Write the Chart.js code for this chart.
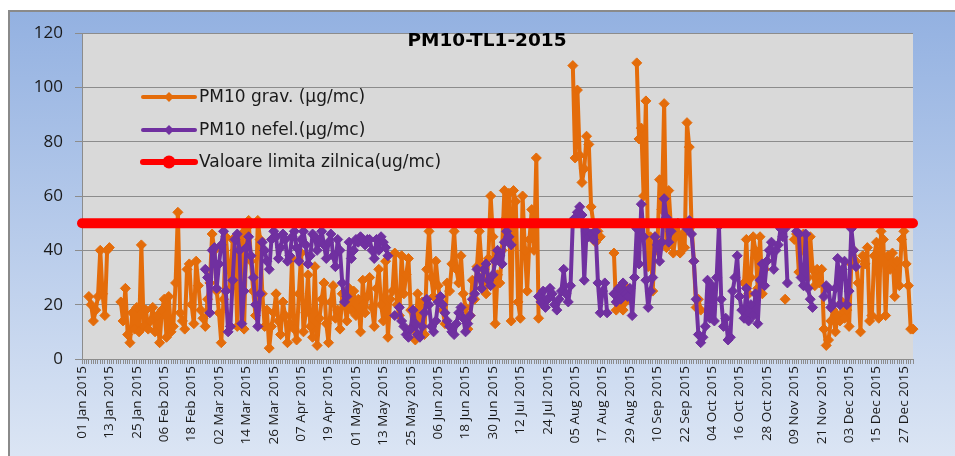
<!DOCTYPE html>
<html>
<head>
<meta charset="utf-8">
<script src="https://cdn.jsdelivr.net/npm/chart.js@4.4.1/dist/chart.umd.min.js"></script>
<style>
  html, body { margin: 0; padding: 0; background: #fff; }
</style>
</head>
<body>
<canvas id="pm10" width="955" height="456"></canvas>
<script>
// --- data -------------------------------------------------------------
const chartTitle = 'PM10-TL1-2015';
const seriesNames = ['PM10 grav. (µg/mc)', 'PM10 nefel.(µg/mc)', 'Valoare limita zilnica(ug/mc)'];
const limitValue = 50;
const yMin = 0, yMax = 120, yStep = 20;
const labelEvery = 12; // one x label every 12 days
const monthNames = ['Jan', 'Feb', 'Mar', 'Apr', 'May', 'Jun', 'Jul', 'Aug', 'Sep', 'Oct', 'Nov', 'Dec'];

// daily categories for 2015
const days = [];
for (let d = new Date(Date.UTC(2015, 0, 1)); d.getUTCFullYear() === 2015; d.setUTCDate(d.getUTCDate() + 1)) {
  const dd = String(d.getUTCDate()).padStart(2, '0');
  days.push(dd + ' ' + monthNames[d.getUTCMonth()] + ' 2015');
}

// PM10 gravimetric, one value per day (null = no measurement)
const pm10Grav = [
  null, null, null, 23, 20, 14, 18, 23, 40, 24,      // d0
  16, 40, 41, null, null, null, null, 21, 14, 26,    // d10
  9, 6, 17, 11, 19, 10, 42, 12, 18, 11,              // d20
  14, 19, 10, 16, 6, 18, 22, 8, 23, 10,              // d30
  12, 28, 54, 17, 14, 11, 33, 35, 20, 13,            // d40
  36, 27, 18, 15, 12, 22, 28, 46, 40, 25,            // d50
  17, 6, 22, 45, 35, 26, 44, 40, 12, 44,             // d60
  46, 11, 48, 51, 36, 25, 16, 51, 44, 24,            // d70
  12, 18, 4, 12, 17, 24, 14, 9, 21, 16,              // d80
  6, 13, 37, 11, 7, 24, 39, 10, 17, 31,              // d90
  12, 8, 34, 5, 15, 22, 28, 13, 6, 21,               // d100
  27, 15, 18, 11, 24, 20, 14, 26, 18, 25,            // d110
  16, 22, 10, 29, 17, 23, 30, 19, 12, 26,            // d120
  33, 20, 14, 36, 8, 22, 25, 39, 20, 16,             // d130
  38, 24, 31, 37, 18, 12, 7, 24, 15, 21,             // d140
  9, 33, 47, 30, 23, 36, 27, 21, 18, 13,             // d150
  28, 25, 35, 47, 33, 28, 38, 24, 19, 11,            // d160
  16, 29, 22, 34, 47, 35, 28, 24, 37, 60,            // d170
  45, 13, 31, 28, 40, 62, 52, 61, 14, 62,            // d180
  58, 21, 15, 60, 40, 25, 44, 55, 40, 74,            // d190
  15, null, null, null, null, null, null, null, null, null, // d200
  null, null, null, null, null, 108, 74, 99, 75, 65, // d210
  70, 82, 79, 56, 50, 43, 47, 45, null, null,        // d220
  null, null, null, 39, 18, 20, 24, 18, 21, 26,      // d230
  null, null, null, 109, 81, 85, 60, 95, 34, 45,     // d240
  25, 45, 40, 66, 55, 94, 41, 62, 48, 39,            // d250
  45, 50, 39, 46, 41, 87, 78, 49, 36, 19,            // d260
  22, 18, null, null, null, null, null, null, null, null, // d270
  null, null, null, null, null, null, null, null, null, null, // d280
  28, 44, 24, 30, 45, 40, 26, 45, 24, 33,            // d290
  36, null, null, null, null, null, null, null, 22, null, // d300
  null, null, 44, 46, 32, 40, 46, 34, 30, 45,        // d310
  33, 27, 33, 28, 33, 11, 5, 7, 14, 18,              // d320
  10, 16, 14, 21, 15, 18, 12, 35, 40, 36,            // d330
  28, 10, 38, 35, 41, 14, 16, 38, 43, 15,            // d340
  47, 44, 16, 38, 33, 39, 23, 36, 27, 44,            // d350
  47, 35, 27, 11, 11                                 // d360
];

// PM10 nephelometric, one value per day (null = no measurement)
const pm10Nefel = [
  null, null, null, null, null, null, null, null, null, null, // d0
  null, null, null, null, null, null, null, null, null, null, // d10
  null, null, null, null, null, null, null, null, null, null, // d20
  null, null, null, null, null, null, null, null, null, null, // d30
  null, null, null, null, null, null, null, null, null, null, // d40
  null, null, null, null, 33, 30, 17, 40, 41, 26,    // d50
  35, 42, 47, 25, 10, 12, 29, 44, 46, 40,            // d60
  13, 25, 41, 45, 38, 30, 20, 12, 24, 43,            // d70
  40, 36, 33, 44, 47, 45, 37, 41, 46, 44,            // d80
  36, 38, 45, 47, 41, 36, 44, 47, 42, 35,            // d90
  38, 46, 45, 40, 44, 47, 42, 37, 43, 46,            // d100
  38, 34, 44, 40, 28, 21, 23, 43, 37, 40,            // d110
  44, 43, 45, 44, 42, 44, 44, 40, 37, 44,            // d120
  40, 45, 43, 41, 38, null, null, 16, null, 19,      // d130
  14, 12, 9, 8, 11, 18, 13, 9, 8, 12,                // d140
  17, 22, 20, 12, 10, 14, 21, 23, 20, 17,            // d150
  14, 12, 10, 9, 13, 17, 19, 15, 10, 13,             // d160
  16, 22, 24, 33, 30, 26, 33, 35, 29, 27,            // d170
  31, 36, 40, 38, 35, 43, 47, 45, 42, null,          // d180
  null, null, null, null, null, null, null, null, null, null, // d190
  23, 21, 25, 19, 22, 26, 24, 20, 18, 22,            // d200
  25, 33, 24, 21, 27, 51, 52, 54, 56, 53,            // d210
  29, 47, 45, 46, 44, 47, 28, 17, 25, 28,            // d220
  17, null, null, 24, 21, 26, 22, 28, 24, 23,        // d230
  26, 16, 30, 48, 35, 57, 45, 29, 19, 25,            // d240
  30, 45, 42, 36, 43, 59, 52, 43, 47, null,          // d250
  null, null, null, null, null, 48, 51, 46, 36, 22,  // d260
  9, 6, 8, 12, 29, 15, 27, 14, 30, 49,               // d270
  22, 12, 15, 7, 8, 25, 30, 38, 23, 18,              // d280
  15, 26, 14, 20, 16, 24, 13, 29, 35, 27,            // d290
  36, 40, 43, 33, 40, 42, 48, 45, 48, 28,            // d300
  null, null, null, 47, 46, 30, 27, 46, 26, 22,      // d310
  19, null, null, null, null, 23, 27, 26, 19, 20,    // d320
  26, 37, 20, 33, 36, 20, 25, 48, 40, 34,            // d330
  null, null, null, null, null, null, null, null, null, null, // d340
  null, null, null, null, null, null, null, null, null, null, // d350
  null, null, null, null, null                       // d360
];

const limitLine = days.map(() => limitValue);

const colors = { grav: '#e46c0a', nefel: '#7030a0', limit: '#ff0000' };

// --- plugins ------------------------------------------------------------
const frame = {
  id: 'frame',
  beforeDraw(chart) {
    const { ctx, width, height, chartArea: a } = chart;
    ctx.save();
    ctx.fillStyle = '#ffffff';
    ctx.fillRect(0, 0, width, height);
    const g = ctx.createLinearGradient(0, 10, 0, height);
    g.addColorStop(0, '#93b1e1');
    g.addColorStop(1, '#dbe5f4');
    ctx.fillStyle = g;
    ctx.fillRect(8, 10, width, height);
    ctx.strokeStyle = '#8a8a8a';
    ctx.lineWidth = 2;
    ctx.strokeRect(9, 11, width + 10, height + 10);
    ctx.fillStyle = '#d9d9d9';
    ctx.fillRect(a.left, a.top, a.right - a.left, a.bottom - a.top);
    ctx.restore();
  },
  afterDraw(chart) {
    const { ctx } = chart;
    ctx.save();
    // title inside the plot area
    ctx.fillStyle = '#000';
    ctx.font = 'bold 18.5px "DejaVu Sans"';
    ctx.textAlign = 'center';
    ctx.textBaseline = 'middle';
    ctx.fillText(chartTitle, 487, 41);

    // legend, top-left inside the plot area
    const rows = [
      { y: 97, color: colors.grav, marker: 'diamond' },
      { y: 130, color: colors.nefel, marker: 'diamond' },
      { y: 162, color: colors.limit, marker: 'circle' },
    ];
    ctx.textAlign = 'left';
    ctx.font = '17px "DejaVu Sans"';
    rows.forEach((r, i) => {
      ctx.strokeStyle = r.color;
      ctx.fillStyle = r.color;
      ctx.lineCap = 'round';
      ctx.lineWidth = r.marker === 'circle' ? 6 : 4;
      ctx.beginPath();
      ctx.moveTo(143, r.y);
      ctx.lineTo(195, r.y);
      ctx.stroke();
      ctx.beginPath();
      if (r.marker === 'circle') {
        ctx.arc(169, r.y, 6.5, 0, Math.PI * 2);
      } else {
        ctx.moveTo(169, r.y - 5);
        ctx.lineTo(174, r.y);
        ctx.lineTo(169, r.y + 5);
        ctx.lineTo(164, r.y);
        ctx.closePath();
      }
      ctx.fill();
      ctx.fillStyle = '#1a1a1a';
      ctx.fillText(seriesNames[i], 199, r.y + 1);
    });
    ctx.restore();
  }
};

// --- chart --------------------------------------------------------------
const lineStyle = (color) => ({
  borderColor: color,
  backgroundColor: color,
  borderWidth: 4,
  borderJoinStyle: 'round',
  borderCapStyle: 'round',
  pointStyle: 'rectRot',
  pointRadius: 5,
  pointBorderWidth: 1,
  pointBorderColor: color,
  pointBackgroundColor: color,
  tension: 0,
  spanGaps: false,
});

new Chart(document.getElementById('pm10'), {
  type: 'line',
  data: {
    labels: days,
    datasets: [
      { label: seriesNames[0], data: pm10Grav, order: 3, ...lineStyle(colors.grav) },
      { label: seriesNames[1], data: pm10Nefel, order: 2, ...lineStyle(colors.nefel) },
      {
        label: seriesNames[2],
        data: limitLine,
        order: 1,
        borderColor: colors.limit,
        backgroundColor: colors.limit,
        borderWidth: 10,
        borderCapStyle: 'round',
        pointRadius: 0,
      },
    ],
  },
  options: {
    responsive: false,
    animation: false,
    devicePixelRatio: 1,
    layout: { padding: { left: 8, top: 33, right: 42, bottom: 0 } },
    plugins: {
      legend: { display: false },
      title: { display: false },
      tooltip: { enabled: false },
    },
    scales: {
      x: {
        offset: false,
        grid: { drawOnChartArea: false, drawTicks: true, tickLength: 5, color: '#8c8c8c' },
        border: { color: '#8c8c8c', width: 1 },
        ticks: {
          autoSkip: false,
          minRotation: 90,
          maxRotation: 90,
          padding: 2,
          color: '#1a1a1a',
          font: { family: 'Open Sans', size: 13.5 },
          callback(value, index) {
            return index % labelEvery === 0 ? this.getLabelForValue(value) : '';
          },
        },
        afterFit(scale) { scale.height = 97; },
      },
      y: {
        min: yMin,
        max: yMax,
        grid: { color: '#8c8c8c', tickLength: 7 },
        border: { color: '#8c8c8c', width: 1 },
        ticks: {
          stepSize: yStep,
          padding: 12,
          color: '#1a1a1a',
          font: { family: 'Open Sans', size: 17 },
        },
        afterFit(scale) { scale.width = 74; },
      },
    },
  },
  plugins: [frame],
});
</script>
</body>
</html>
